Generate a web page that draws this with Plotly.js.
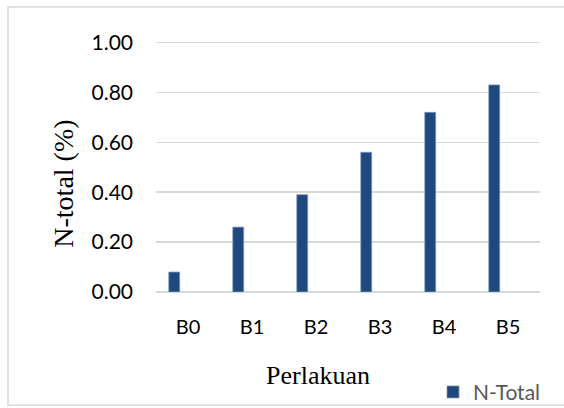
<!DOCTYPE html>
<html>
<head>
<meta charset="utf-8">
<script src="https://cdn.plot.ly/plotly-3.0.1.min.js"></script>
<style>html,body{margin:0;padding:0;background:#fff;}#chart{width:564px;height:408px;}</style>
</head>
<body>
<div id="chart"></div>
<script>
var categories = ["B0", "B1", "B2", "B3", "B4", "B5"];
var nTotal = [0.08, 0.26, 0.39, 0.56, 0.72, 0.83];
var seriesName = "N-Total";
var yTickVals = [0, 0.2, 0.4, 0.6, 0.8, 1.0];
var xTitle = "Perlakuan";
var yTitle = "N-total (%)";

var W = 564, H = 408;
var L = 156, R = 24, T = 41, B = 115.5;
var pw = W - L - R, ph = H - T - B;
function px(x){ return (x - L) / pw; }
function py(y){ return (H - B - y) / ph; }

var trace = {
  type: "bar",
  x: categories,
  y: nTotal,
  name: seriesName,
  width: 0.17,
  offset: -0.30,
  marker: { color: "#1f497d", line: { color: "#8096b3", width: 0.8 } },
  hoverinfo: "skip"
};

var layout = {
  width: W, height: H,
  margin: { l: L, r: R, t: T, b: B, pad: 0, autoexpand: false },
  paper_bgcolor: "#ffffff",
  plot_bgcolor: "#ffffff",
  showlegend: true,
  font: { family: "Lato, 'Liberation Sans', sans-serif", color: "#000000" },
  xaxis: {
    type: "category",
    range: [-0.5, 5.5],
    showgrid: false, zeroline: false, showline: false,
    ticks: "", ticklabelstandoff: 21,
    tickfont: { family: "Lato, sans-serif", size: 20, color: "#000000" }
  },
  yaxis: {
    range: [0, 1.006],
    tickvals: yTickVals,
    tickformat: ".2f",
    showgrid: true, gridcolor: "#d9d9d9", gridwidth: 1.5,
    zeroline: true, zerolinecolor: "#d9d9d9", zerolinewidth: 1.5,
    showline: false, ticks: "", ticklabelstandoff: 22,
    tickfont: { family: "Lato, sans-serif", size: 21, color: "#000000" }
  },
  legend: {
    x: px(433), y: py(393), xanchor: "left", yanchor: "middle",
    bgcolor: "rgba(0,0,0,0)",
    font: { family: "Lato, sans-serif", size: 21, color: "#595959" },
    itemwidth: 30
  },
  annotations: [
    { xref: "paper", yref: "paper", x: px(318), y: py(376), text: xTitle, showarrow: false,
      xanchor: "center", yanchor: "middle",
      font: { family: "'Liberation Serif', 'DejaVu Serif', serif", size: 26, color: "#000000" } },
    { xref: "paper", yref: "paper", x: px(64), y: py(184), text: yTitle, showarrow: false,
      textangle: -90, xanchor: "center", yanchor: "middle",
      font: { family: "'Liberation Serif', 'DejaVu Serif', serif", size: 28, color: "#000000" } }
  ],
  shapes: [
    { type: "rect", xref: "paper", yref: "paper", x0: px(8), x1: px(600), y0: py(406), y1: py(7),
      line: { color: "#d9d9d9", width: 1.5 }, fillcolor: "rgba(0,0,0,0)", layer: "below" }
  ]
};

Plotly.newPlot("chart", [trace], layout, { staticPlot: true, displayModeBar: false });
</script>
</body>
</html>
